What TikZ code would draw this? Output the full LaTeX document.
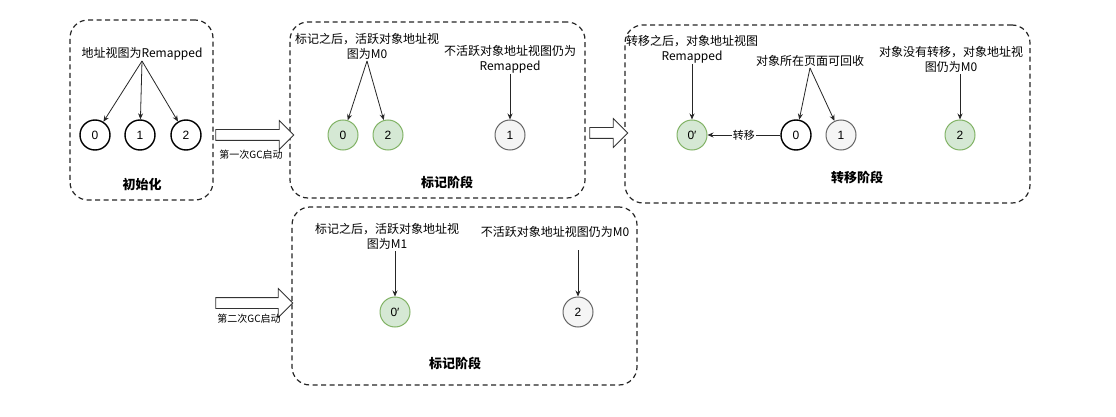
\documentclass[tikz,border=0pt]{standalone}
\usepackage{fontspec}
\setmainfont{Noto Sans CJK SC}
\newfontfamily\digitfont{Liberation Sans}
\usetikzlibrary{arrows.meta,shapes.arrows}

\definecolor{livefill}{HTML}{D5E8D4}
\definecolor{livedraw}{HTML}{82B366}
\definecolor{deadfill}{HTML}{F5F5F5}
\definecolor{deaddraw}{HTML}{666666}

\newcommand{\moved}{0′}

\begin{document}
\begin{tikzpicture}[x=1pt, y=-1pt, >={Stealth[length=6pt,width=5pt]},
    phase/.style={draw=black!85, line width=1.2pt, dash pattern=on 5pt off 3.5pt, rounded corners=18pt, inner sep=0pt},
    title/.style={font=\fontsize{13}{15}\selectfont\bfseries},
    note/.style={font=\fontsize{12}{15}\selectfont, align=center, inner sep=1pt, anchor=south},
    gclabel/.style={font=\fontsize{10}{12}\selectfont},
    obj/.style={circle, minimum size=30pt, inner sep=0pt, font=\digitfont\fontsize{12}{14}\selectfont},
    objnew/.style={obj, draw=black, line width=1.4pt, fill=white},
    objlive/.style={obj, draw=livedraw, line width=1pt, fill=livefill},
    objdead/.style={obj, draw=deaddraw, line width=1pt, fill=deadfill},
    hollow/.style={single arrow, draw=black!80, line width=0.8pt, fill=white, inner xsep=0pt, inner ysep=5pt, minimum width=28pt, single arrow head extend=9pt, single arrow head indent=0pt},
    pointer/.style={->, draw=black!85, line width=0.8pt}]
    \useasboundingbox[fill=white] (0,0) rectangle (1116,417);

    % phase boxes
    \node[phase, minimum width=143pt, minimum height=180pt] (init) at (141.5,110) {};
    \node[phase, minimum width=295pt, minimum height=176pt] (mark1) at (437.5,110) {};
    \node[phase, minimum width=405pt, minimum height=178pt] (relocate) at (827.5,114) {};
    \node[phase, minimum width=345pt, minimum height=178pt] (mark2) at (464.5,296) {};

    \node[title] (inittitle) at (142,185) {初始化};
    \node[title] (mark1title) at (447,182) {标记阶段};
    \node[title] (relocatetitle) at (857,178) {转移阶段};
    \node[title] (mark2title) at (455,363) {标记阶段};

    % GC triggers
    \node[hollow, minimum height=78pt] (gc1) at (252,135) {};
    \node[gclabel] (gc1label) at (251,155) {第一次GC启动};
    \node[hollow, minimum height=38pt] (gc2) at (606,133) {};
    \node[hollow, minimum height=77pt] (gc3) at (251.5,303) {};
    \node[gclabel] (gc3label) at (249,319) {第二次GC启动};

    % initial state
    \node[note] (initnote) at (142,61) {地址视图为Remapped};
    \node[objnew] (ia) at (95,135) {0};
    \node[objnew] (ib) at (140,135) {1};
    \node[objnew] (ic) at (186,135) {2};
    \draw[pointer] (initnote.south) -- (ia);
    \draw[pointer] (initnote.south) -- (ib);
    \draw[pointer] (initnote.south) -- (ic);

    % first marking
    \node[note] (m1live) at (367,61) {标记之后，活跃对象地址视\\图为M0};
    \node[note] (m1dead) at (510,74) {不活跃对象地址视图仍为\\Remapped};
    \node[objlive] (ma) at (343,135) {0};
    \node[objlive] (mc) at (388,135) {2};
    \node[objdead] (mb) at (510,135) {1};
    \draw[pointer] (m1live.south) -- (ma);
    \draw[pointer] (m1live.south) -- (mc);
    \draw[pointer] (m1dead.south) -- (mb);

    % relocation
    \node[note] (rmoved) at (692,64) {转移之后，对象地址视图\\Remapped};
    \node[note] (rfree) at (810,68) {对象所在页面可回收};
    \node[note] (rstay) at (951,74) {对象没有转移，对象地址视\\图仍为M0};
    \node[objlive] (rnew) at (692,135) {\moved};
    \node[objnew] (ra) at (796,135) {0};
    \node[objdead] (rb) at (841,135) {1};
    \node[objlive] (rc) at (960,135) {2};
    \draw[pointer] (rmoved.south) -- (rnew);
    \draw[pointer] (rfree.south) -- (ra);
    \draw[pointer] (rfree.south) -- (rb);
    \draw[pointer] (rstay.south -| rc) -- (rc);
    \draw[pointer] (ra) -- node[fill=white, inner sep=1pt, font=\fontsize{11}{13}\selectfont] {转移} (rnew);

    % second marking
    \node[note] (m2live) at (387,251) {标记之后，活跃对象地址视\\图为M1};
    \node[note] (m2dead) at (555,239) {不活跃对象地址视图仍为M0};
    \node[objlive] (na) at (395,312) {\moved};
    \node[objdead] (nc) at (578,312) {2};
    \draw[pointer] (m2live.south -| na) -- (na);
    \draw[pointer] ([yshift=-11pt]m2dead.south -| nc) -- (nc);
  \end{tikzpicture}
\end{document}
